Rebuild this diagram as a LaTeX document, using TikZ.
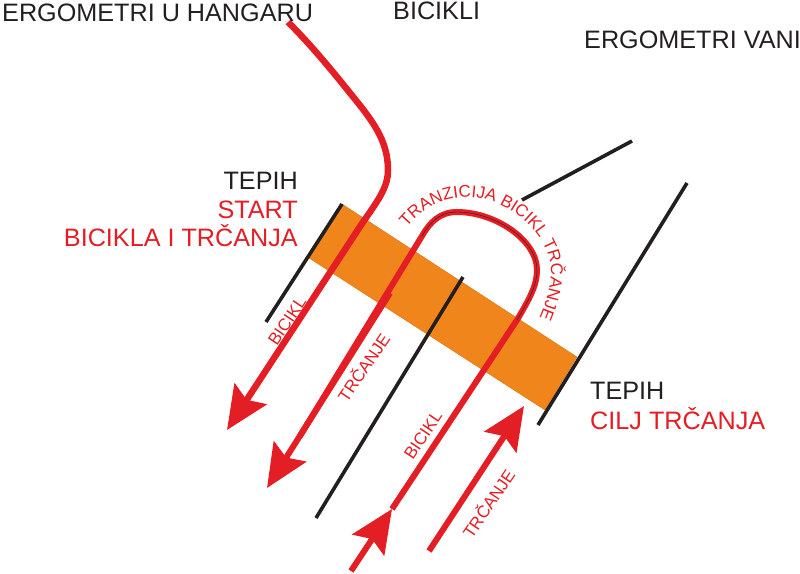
\documentclass[tikz,border=0pt]{standalone}
\usepackage{fontspec}
\setmainfont{Liberation Sans}
\usetikzlibrary{arrows.meta,decorations.text}
\definecolor{myred}{HTML}{E31E24}
\definecolor{myblack}{HTML}{231F20}
\definecolor{myorange}{HTML}{F0851C}

\begin{document}
\begin{tikzpicture}[
      x=1pt,y=-1pt,
      title/.style={font=\fontsize{25.2}{27}\selectfont,text=myblack,inner sep=0pt},
      redtitle/.style={title,text=myred},
      slopelabel/.style={font=\fontsize{17}{19}\selectfont,text=myred,inner sep=0pt},
      border/.style={draw=myblack,line width=3.6pt},
      redline/.style={draw=myred,line width=6pt},
      redarrow/.style={redline,-{Stealth[length=43pt,width=38pt,inset=7pt]}}
      ]
      \useasboundingbox (0,0) rectangle (800,573);

      % carpet corners
      \coordinate (c1) at (342,204);
      \coordinate (c2) at (577,357);
      \coordinate (c3) at (545,410);
      \coordinate (c4) at (309,258);
      \filldraw[fill=myorange,draw=myorange!90!black,line width=0.4pt] (c1) -- (c2) -- (c3) -- (c4) -- cycle;

      % end points of the black lines and the red paths
      \coordinate (b1) at (266,322);
      \coordinate (b2) at (538,425);
      \coordinate (b3) at (687,183);
      \coordinate (b4) at (463,277);
      \coordinate (b5) at (316,518);
      \coordinate (b6) at (522,200);
      \coordinate (b7) at (632,141);
      \coordinate (r1) at (288,22);
      \coordinate (r2) at (227,430);
      \coordinate (r3) at (267,488);
      \coordinate (r4) at (392,509);
      \coordinate (r5) at (351,571);
      \coordinate (r6) at (429,551);
      \coordinate (r7) at (524,406);

      \foreach \i/\j in {c1/b1,b2/b3,b4/b5,b6/b7}
         \draw[border] (\i) -- (\j);

      \draw[redarrow,line width=6.5pt] (r1) .. controls (310,44) and (330,68) .. (350,93)
         .. controls (372,120) and (388,140) .. (388,170)
         .. controls (388,186) and (380,198) .. (363,222) -- (r2);
      \draw[redline] (r4) -- (517,320) .. controls (530,298) and (537,285) .. (537,270)
         .. controls (537,240) and (495,212) .. (457,212)
         .. controls (440,212) and (430,222) .. (422,236) -- (300,436);
      \draw[myblack,line width=0.4pt] (517,320) .. controls (530,298) and (537,285) .. (537,270)
         .. controls (537,240) and (495,212) .. (457,212)
         .. controls (440,212) and (430,222) .. (422,236);
      \draw[redarrow] (390,293) -- (r3);
      \draw[redarrow] (r5) -- (r4);
      \draw[redarrow] (r6) -- (r7);

      \node[title,anchor=base west] (t1) at (2,21) {ERGOMETRI U HANGARU};
      \node[title,anchor=base west] (t2) at (393,19) {BICIKLI};
      \node[title,anchor=base west] (t3) at (584,48) {ERGOMETRI VANI};
      \node[title,anchor=base east] (t4) at (298,189) {TEPIH};
      \node[redtitle,anchor=base east] (t5) at (298,218) {START};
      \node[redtitle,anchor=base east] (t6) at (298,246) {BICIKLA I TRČANJA};
      \node[title,anchor=base west] (t7) at (590,399) {TEPIH};
      \node[redtitle,anchor=base west] (t8) at (590,429) {CILJ TRČANJA};

      \node[slopelabel,rotate=56] (l1) at (287,321) {BICIKL};
      \node[slopelabel,rotate=56] (l2) at (363,367) {TRČANJE};
      \node[slopelabel,rotate=56] (l3) at (423,435) {BICIKL};
      \node[slopelabel,rotate=56] (l4) at (488,503) {TRČANJE};

      \path[postaction={decorate},decoration={text along path,
         text={|\fontsize{17}{19}\selectfont\color{myred}|TRANZICIJA BICIKL TRČANJE},
         text align=center}]
         (400,236) .. controls (422,205) and (445,197) .. (470,197)
         .. controls (510,199) and (549,235) .. (551,270)
         .. controls (551,285) and (546,305) .. (535,328);
    \end{tikzpicture}
\end{document}
